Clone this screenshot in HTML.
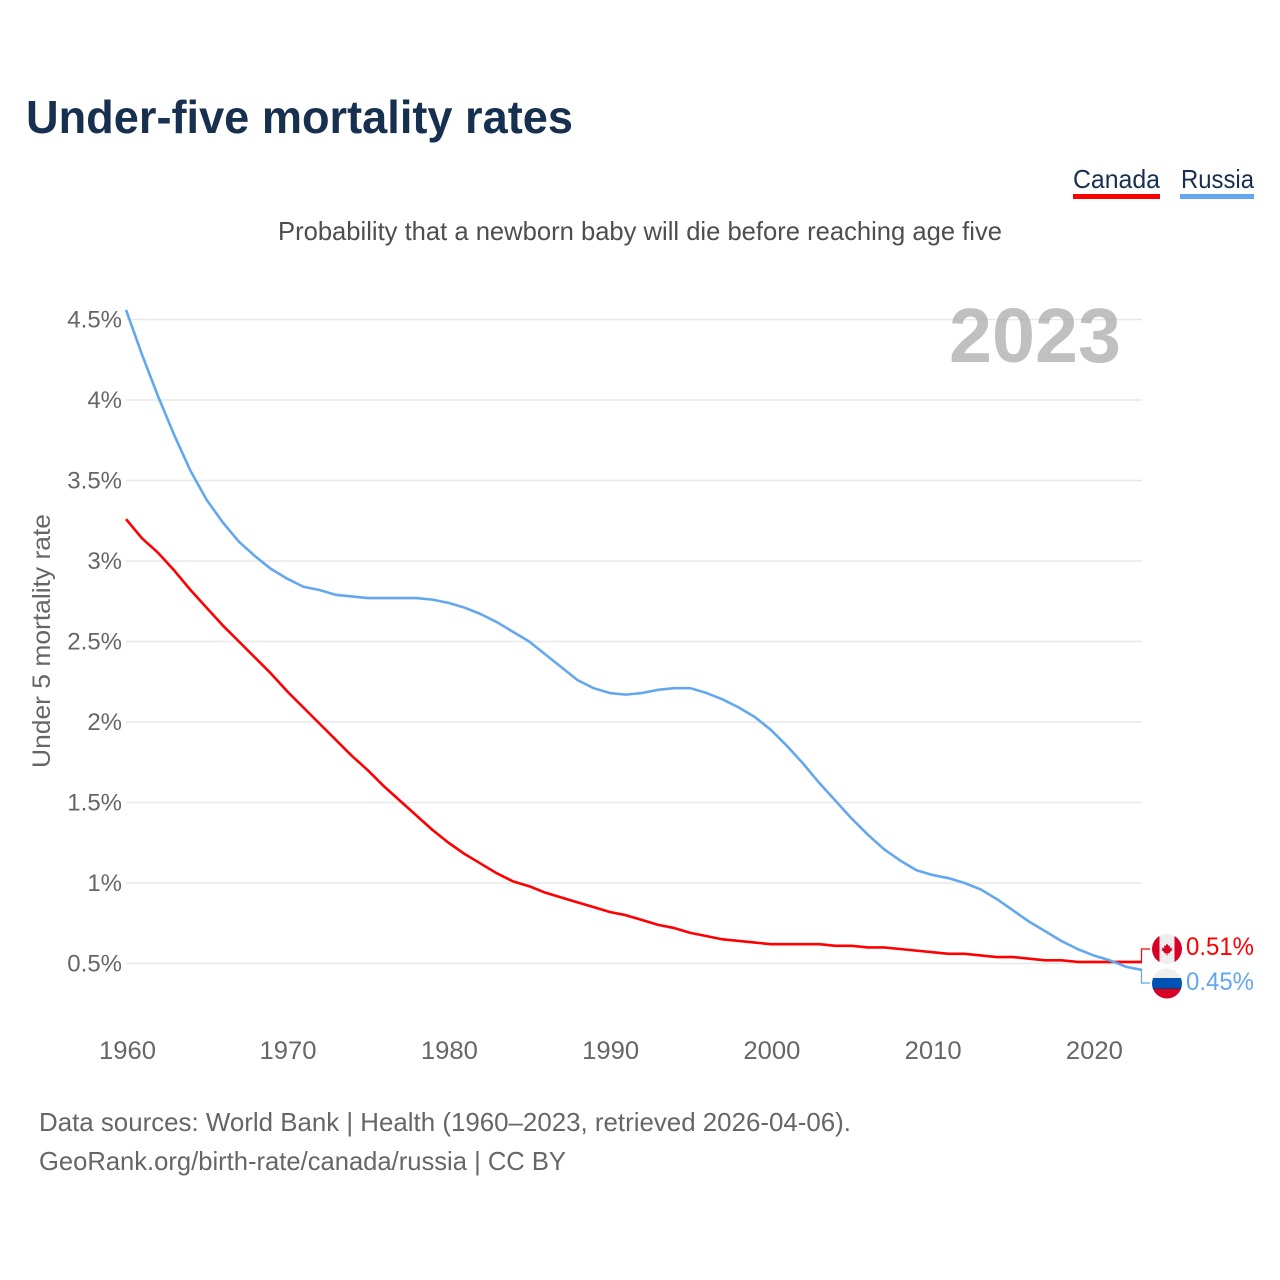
<!DOCTYPE html>
<html lang="en">
<head>
<meta charset="utf-8">
<title>Under-five mortality rates</title>
<style>
html,body{margin:0;padding:0;background:#fff;width:1280px;height:1280px;overflow:hidden}
svg{display:block}
text{font-family:"Liberation Sans",sans-serif}
</style>
</head>
<body>
<svg id="chart" xmlns="http://www.w3.org/2000/svg" width="1280" height="1280" viewBox="0 0 1280 1280">
  <defs>
    <clipPath id="clip-ca"><circle cx="1167" cy="949" r="15"/></clipPath>
    <clipPath id="clip-ru"><circle cx="1167" cy="983.5" r="15"/></clipPath>
  </defs>
  <rect width="1280" height="1280" fill="#fff"/>
  <text x="26" y="133" font-size="46" font-weight="700" fill="#18304f" textLength="547" lengthAdjust="spacingAndGlyphs">Under-five mortality rates</text>
  <text x="278" y="240" font-size="26" fill="#4e4e4e" textLength="724" lengthAdjust="spacingAndGlyphs">Probability that a newborn baby will die before reaching age five</text>

  <g>
    <text x="1073" y="188" font-size="26" fill="#18304f" textLength="87" lengthAdjust="spacingAndGlyphs">Canada</text>
    <rect x="1073" y="194" width="87" height="5" fill="#ff0000"/>
  </g>
  <g>
    <text x="1181" y="188" font-size="26" fill="#18304f" textLength="73" lengthAdjust="spacingAndGlyphs">Russia</text>
    <rect x="1180" y="194" width="74" height="5" fill="#63a8ee"/>
  </g>

  <text transform="translate(50,768) rotate(-90)" font-size="25" fill="#666" textLength="254" lengthAdjust="spacingAndGlyphs">Under 5 mortality rate</text>

  <g id="grid"></g>
  <g id="y-labels"></g>
  <g id="x-labels"></g>

  <text x="949" y="362" font-size="77" font-weight="700" fill="#a8a8a8" fill-opacity="0.72" textLength="172" lengthAdjust="spacingAndGlyphs">2023</text>

  <g id="series"></g>

  <g clip-path="url(#clip-ca)">
    <rect x="1152" y="934" width="30" height="30" fill="#eeeeee"/>
    <rect x="1152" y="934" width="7.5" height="30" fill="#d80027"/>
    <rect x="1174.5" y="934" width="7.5" height="30" fill="#d80027"/>
    <path d="M1167 943.5l1.6 2.6 1.5-.6-.5 2.8 2.4-.9-.6 1.6 1.2.8-3 2.4.3 1.2-2.4-.3v2.3h-1v-2.3l-2.4.3.3-1.2-3-2.4 1.2-.8-.6-1.6 2.4.9-.5-2.8 1.5.6z" fill="#d80027"/>
  </g>
  <g clip-path="url(#clip-ru)">
    <rect x="1152" y="968" width="30" height="10.5" fill="#eeeeee"/>
    <rect x="1152" y="978" width="30" height="10.5" fill="#0052b4"/>
    <rect x="1152" y="988" width="30" height="1.5" fill="#1b3a5e"/>
    <rect x="1152" y="989" width="30" height="11" fill="#d80027"/>
  </g>

  <text id="label-canada" x="1186" y="955" font-size="25" fill="#ff0000" textLength="68" lengthAdjust="spacingAndGlyphs">0.51%</text>
  <text id="label-russia" x="1186" y="990" font-size="25" fill="#63a8ee" textLength="68" lengthAdjust="spacingAndGlyphs">0.45%</text>

  <g>
    <text x="39" y="1131" font-size="26" fill="#666" textLength="812" lengthAdjust="spacingAndGlyphs">Data sources: World Bank | Health (1960–2023, retrieved 2026-04-06).</text>
    <text x="39" y="1170" font-size="26" fill="#666" textLength="527" lengthAdjust="spacingAndGlyphs">GeoRank.org/birth-rate/canada/russia | CC BY</text>
  </g>
</svg>
<script>
const years = [1960,1961,1962,1963,1964,1965,1966,1967,1968,1969,1970,1971,1972,1973,1974,1975,1976,1977,1978,1979,1980,1981,1982,1983,1984,1985,1986,1987,1988,1989,1990,1991,1992,1993,1994,1995,1996,1997,1998,1999,2000,2001,2002,2003,2004,2005,2006,2007,2008,2009,2010,2011,2012,2013,2014,2015,2016,2017,2018,2019,2020,2021,2022,2023];
const canadaValues = [3.26,3.14,3.05,2.94,2.82,2.71,2.60,2.50,2.40,2.30,2.19,2.09,1.99,1.89,1.79,1.70,1.60,1.51,1.42,1.33,1.25,1.18,1.12,1.06,1.01,0.98,0.94,0.91,0.88,0.85,0.82,0.80,0.77,0.74,0.72,0.69,0.67,0.65,0.64,0.63,0.62,0.62,0.62,0.62,0.61,0.61,0.60,0.60,0.59,0.58,0.57,0.56,0.56,0.55,0.54,0.54,0.53,0.52,0.52,0.51,0.51,0.51,0.51,0.51];
const russiaValues = [4.56,4.28,4.02,3.78,3.56,3.38,3.24,3.12,3.03,2.95,2.89,2.84,2.82,2.79,2.78,2.77,2.77,2.77,2.77,2.76,2.74,2.71,2.67,2.62,2.56,2.50,2.42,2.34,2.26,2.21,2.18,2.17,2.18,2.20,2.21,2.21,2.18,2.14,2.09,2.03,1.95,1.85,1.74,1.62,1.51,1.40,1.30,1.21,1.14,1.08,1.05,1.03,1.00,0.96,0.90,0.83,0.76,0.70,0.64,0.59,0.55,0.52,0.48,0.46];
const yTicks = [0.5,1,1.5,2,2.5,3,3.5,4,4.5];
const yTickLabels = ["0.5%","1%","1.5%","2%","2.5%","3%","3.5%","4%","4.5%"];
const xTicks = [1960,1970,1980,1990,2000,2010,2020];

const NS = 'http://www.w3.org/2000/svg';
function xScale(year){ return 126 + (year - 1960) * (1142 - 126) / 63; }
function yScale(v){ return 963.5 - (v - 0.5) * 161; }

const grid = document.getElementById('grid');
const yLabels = document.getElementById('y-labels');
const xLabels = document.getElementById('x-labels');
const seriesGroup = document.getElementById('series');

yTicks.forEach(function(t, i){
  const line = document.createElementNS(NS, 'line');
  
  
  line.setAttribute('x1', 126);
  line.setAttribute('x2', 1142);
  line.setAttribute('y1', yScale(t));
  line.setAttribute('y2', yScale(t));
  line.setAttribute('stroke', '#e8e8e8');
  line.setAttribute('stroke-width', '1.5');
  grid.appendChild(line);
  const label = document.createElementNS(NS, 'text');
  
  
  label.setAttribute('x', 122);
  label.setAttribute('y', yScale(t) + 8);
  label.setAttribute('text-anchor', 'end');
  label.setAttribute('font-size', '24');
  label.setAttribute('fill', '#666');
  label.textContent = yTickLabels[i];
  yLabels.appendChild(label);
});

xTicks.forEach(function(t){
  const label = document.createElementNS(NS, 'text');
  
  
  label.setAttribute('x', t === 1960 ? xScale(t) + 1.5 : xScale(t) + 0.8);
  label.setAttribute('y', 1059);
  label.setAttribute('text-anchor', 'middle');
  label.setAttribute('font-size', '25');
  label.setAttribute('fill', '#666');
  label.setAttribute('textLength', '57');
  label.setAttribute('lengthAdjust', 'spacingAndGlyphs');
  label.textContent = String(t);
  xLabels.appendChild(label);
});

function pathFor(values){
  return values.map(function(v, i){
    return (i ? 'L' : 'M') + xScale(years[i]).toFixed(2) + ' ' + yScale(v).toFixed(2);
  }).join(' ');
}

const canadaLine = document.createElementNS(NS, 'path');


canadaLine.setAttribute('d', pathFor(canadaValues));
canadaLine.setAttribute('fill', 'none');
canadaLine.setAttribute('stroke', '#ff0000');
canadaLine.setAttribute('stroke-width', '2.6');
canadaLine.setAttribute('stroke-linejoin', 'round');
seriesGroup.appendChild(canadaLine);

const russiaLine = document.createElementNS(NS, 'path');


russiaLine.setAttribute('d', pathFor(russiaValues));
russiaLine.setAttribute('fill', 'none');
russiaLine.setAttribute('stroke', '#63a8ee');
russiaLine.setAttribute('stroke-width', '2.6');
russiaLine.setAttribute('stroke-linejoin', 'round');
seriesGroup.appendChild(russiaLine);

const lastIdx = years.length - 1;
const caEndY = yScale(canadaValues[lastIdx]);
const ruEndY = yScale(russiaValues[lastIdx]);

const canadaConnector = document.createElementNS(NS, 'path');


canadaConnector.setAttribute('d', 'M' + xScale(2023) + ' ' + caEndY + ' H1141.5 V949 H1150');
canadaConnector.setAttribute('fill', 'none');
canadaConnector.setAttribute('stroke', '#ff0000');
canadaConnector.setAttribute('stroke-width', '1.2');
seriesGroup.appendChild(canadaConnector);

const russiaConnector = document.createElementNS(NS, 'path');


russiaConnector.setAttribute('d', 'M' + xScale(2023) + ' ' + ruEndY + ' H1141.5 V983 H1150');
russiaConnector.setAttribute('fill', 'none');
russiaConnector.setAttribute('stroke', '#63a8ee');
russiaConnector.setAttribute('stroke-width', '1.2');
seriesGroup.appendChild(russiaConnector);
</script>
</body>
</html>
